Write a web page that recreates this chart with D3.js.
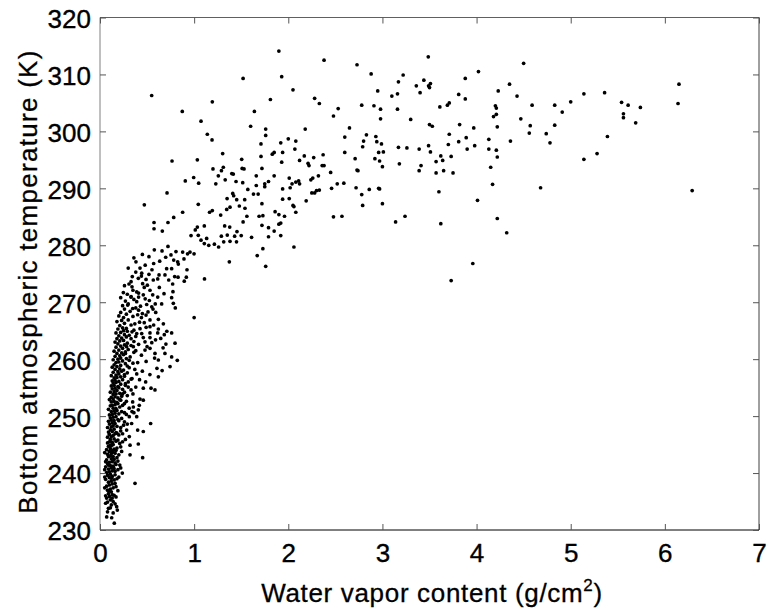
<!DOCTYPE html>
<html>
<head>
<meta charset="utf-8">
<script src="https://cdn.jsdelivr.net/npm/d3@7"></script>
<style>
  html, body { margin: 0; padding: 0; background: #fff; }
  svg { display: block; font-family: "Liberation Sans", Arial, Helvetica, sans-serif; }
</style>
</head>
<body>
<svg width="768" height="610"></svg>
<script>
/* axis setup */
let xTicks = [0, 1, 2, 3, 4, 5, 6, 7];
let yTicks = [230, 240, 250, 260, 270, 280, 290, 300, 310, 320];

/* data: [water vapor g/cm2, bottom temperature K] */
// dense low-vapour core
let denseCore = [
  [0.09,233.8],[0.12,234.4],[0.08,234.9],[0.11,235.3],[0.14,235.0],[0.07,235.6],[0.10,235.9],[0.13,236.2],[0.16,234.6],[0.09,236.4],[0.06,236.0],[0.12,236.7],[0.15,236.1],
  [0.08,237.0],[0.11,237.2],[0.14,237.4],[0.07,237.7],[0.10,237.9],[0.13,238.1],[0.17,237.6],[0.09,238.4],[0.12,238.6],[0.15,238.8],[0.06,238.9],[0.10,239.2],[0.13,239.4],[0.18,239.0],[0.08,239.6],[0.11,239.8],[0.16,239.7],[0.20,239.3],
  [0.07,240.1],[0.10,240.2],[0.13,240.4],[0.16,240.3],[0.09,240.7],[0.12,240.9],[0.15,240.8],[0.19,240.6],[0.06,241.1],[0.11,241.3],[0.14,241.2],[0.17,241.5],[0.08,241.7],[0.10,241.9],[0.13,242.0],[0.16,241.8],[0.21,241.4],[0.07,242.3],[0.12,242.5],[0.15,242.4],[0.18,242.7],[0.09,242.9],[0.11,243.0],[0.14,242.9],
  [0.08,243.3],[0.12,243.4],[0.16,243.5],[0.20,243.2],[0.10,243.8],[0.13,243.9],[0.07,244.1],[0.11,244.3],[0.15,244.2],[0.18,244.4],[0.09,244.7],[0.12,244.8],[0.14,245.0],[0.22,244.6],[0.08,245.3],[0.10,245.5],[0.13,245.4],[0.17,245.6],[0.11,245.9],[0.15,246.0],[0.19,245.8],[0.24,245.5],
  [0.08,246.3],[0.12,246.4],[0.14,246.6],[0.10,246.8],[0.16,246.9],[0.20,246.7],[0.09,247.2],[0.13,247.3],[0.17,247.1],[0.11,247.6],[0.15,247.7],[0.22,247.4],[0.08,248.0],[0.12,248.1],[0.14,248.3],[0.18,248.2],[0.10,248.6],[0.13,248.8],[0.16,248.7],[0.25,248.4],[0.09,249.1],[0.12,249.3],[0.15,249.2],[0.19,249.4],[0.11,249.7],[0.14,249.8],[0.17,249.9],[0.23,249.6],
  [0.10,250.2],[0.13,250.3],[0.16,250.5],[0.20,250.4],[0.12,250.8],[0.15,250.9],[0.18,251.0],[0.26,250.6],[0.09,251.2],[0.14,251.4],[0.17,251.3],[0.21,251.6],[0.11,251.8],[0.13,251.9],[0.16,252.0],[0.19,252.2],[0.24,251.9],[0.12,252.5],[0.15,252.6],[0.18,252.4],[0.22,252.8],[0.10,252.9],[0.14,253.0],[0.28,252.6],
  [0.12,253.3],[0.16,253.4],[0.19,253.2],[0.23,253.5],[0.14,253.8],[0.17,253.9],[0.21,254.0],[0.11,254.2],[0.15,254.3],[0.18,254.5],[0.26,254.2],[0.13,254.8],[0.16,254.9],[0.20,255.0],[0.24,254.7],[0.12,255.3],[0.15,255.4],[0.19,255.2],[0.22,255.6],[0.30,255.1],[0.14,255.8],[0.17,255.9],[0.27,255.7],
  [0.13,256.2],[0.16,256.3],[0.20,256.1],[0.24,256.4],[0.15,256.7],[0.18,256.8],[0.22,256.9],[0.33,256.5],[0.12,257.1],[0.17,257.2],[0.20,257.4],[0.26,257.3],[0.14,257.7],[0.19,257.8],[0.23,257.9],[0.29,257.6],[0.16,258.2],[0.21,258.3],[0.25,258.1],[0.13,258.6],[0.18,258.7],[0.22,258.9],[0.31,258.5],[0.15,259.0],[0.27,259.2],
  [0.17,259.4],[0.20,259.5],[0.24,259.7],[0.35,259.3],[0.14,259.9],[0.19,260.0],[0.22,260.2],[0.28,260.1],[0.16,260.5],[0.21,260.6],[0.25,260.8],[0.32,260.4],[0.18,261.0],[0.23,261.1],[0.27,261.3],[0.15,261.4],[0.20,261.6],[0.30,261.7],[0.24,261.9],[0.38,261.5],
  [0.17,262.1],[0.22,262.3],[0.26,262.5],[0.19,262.7],[0.29,262.8],[0.33,262.4],[0.16,263.0],[0.21,263.2],[0.25,263.3],[0.36,263.1],[0.18,263.6],[0.23,263.7],[0.28,263.9],[0.20,264.1],[0.26,264.3],[0.31,264.2],[0.17,264.6],[0.22,264.7],[0.34,264.8],[0.25,265.0],
  [0.19,265.3],[0.24,265.5],[0.28,265.4],[0.21,265.9],[0.33,266.0],[0.26,266.3],[0.37,266.2],[0.18,266.6],[0.23,266.8],[0.30,266.9],[0.42,266.5],[0.25,267.3],[0.20,267.6],[0.35,267.5],[0.28,267.9],[0.22,268.2],[0.32,268.4],[0.45,268.0],[0.26,268.8],[0.38,269.0],[0.24,269.4],[0.30,269.7],[0.43,269.3],[0.27,270.2],[0.36,270.5],[0.33,271.0]
];

// looser points round the edges of the core
let coreFringe = [
  [0.22,270.8],[0.29,271.4],[0.35,272.1],[0.41,271.6],[0.47,272.6],[0.26,272.9],[0.33,273.6],[0.44,274.6],[0.52,274.9],[0.38,275.3],[0.30,276.0],[0.48,276.5],[0.57,276.8],[0.36,277.8],[0.45,278.4],[0.52,278.0],
  [0.39,270.1],[0.48,270.6],[0.55,269.2],[0.51,268.3],[0.40,267.8],[0.47,266.4],[0.57,266.0],[0.36,265.1],[0.49,265.6],[0.62,265.3],
  [0.29,264.9],[0.38,264.0],[0.46,263.8],[0.55,262.9],[0.33,263.6],[0.41,262.6],[0.50,262.2],[0.27,261.0],[0.36,261.2],[0.44,260.7],[0.58,260.2],[0.31,259.8],[0.40,259.4],[0.49,259.6],[0.29,258.8],[0.37,258.2],[0.45,257.9],[0.53,257.3],[0.26,257.0],[0.34,256.6],[0.42,256.4],[0.62,256.9],[0.30,256.0],[0.39,257.4],[0.67,262.0],[0.71,264.9],[0.59,263.4],[0.66,258.0],
  [0.27,255.4],[0.33,254.6],[0.38,255.1],[0.24,253.9],[0.29,253.6],[0.35,253.9],[0.21,252.9],[0.26,252.2],[0.31,251.4],[0.23,250.8],[0.28,250.3],[0.36,250.6],[0.20,249.2],[0.26,249.0],[0.22,248.0],[0.29,248.6],[0.18,247.0],[0.24,246.9],[0.21,245.2],[0.27,245.9],[0.17,244.0],[0.23,243.8],
  [0.05,243.6],[0.06,242.0],[0.05,240.6],[0.19,242.1],[0.22,240.9],[0.05,239.3],[0.16,238.2],[0.19,236.9],[0.05,237.4],[0.13,235.6],[0.06,234.7],[0.11,233.9],[0.08,233.2],[0.14,233.0],[0.17,235.8],[0.10,236.9],[0.12,239.1],[0.09,241.4],[0.14,243.7],[0.11,244.9]
];

// the rising arm between the core and the upper cloud
let risingArm = [
  [0.471,287.1],[1.044,287.2],[0.878,285.8],[0.783,284.9],[0.722,284.0],[0.574,284.0],[0.574,282.9],[0.662,282.5],
  [1.034,283.2],[1.108,283.4],[1.012,282.7],[1.164,285.8],[1.193,286.1],[1.282,285.3],[1.346,286.3],[1.381,286.7],
  [1.452,288.0],[1.537,288.0],
  [1.455,282.4],[1.43,281.6],[1.50,281.7],[1.45,280.6],[1.52,284.1],[1.56,285.1],[1.54,286.5],[1.48,286.9],
  [1.324,283.4],[1.378,283.2],[1.352,281.8],[1.289,281.6],[1.314,280.6],[1.381,280.7],[1.215,280.2],
  [1.26,279.7],[1.374,277.1],[1.11,274.1],[1.00,267.3],
  [1.073,280.9],[1.108,280.3],[1.155,280.0],[1.133,281.2],[1.044,281.75],[0.967,281.7],
  [0.956,278.8],[0.999,278.5],[0.93,278.5],[0.878,278.8],[0.892,277.6],[0.807,278.9],[0.825,277.1],
  [0.917,274.4],[0.924,275.7],[0.895,273.7],[0.832,276.7],
  [0.722,279.8],[0.659,279.0],[0.577,279.2],[0.754,278.3],[0.698,277.9],[0.783,277.4],[0.634,277.2],
  [0.382,277.1],[0.425,276.0],[0.443,275.1],[0.552,275.7],[0.627,274.8],[0.708,275.9],[0.761,275.9],[0.69,274.8],[0.793,274.5],[0.829,274.4],[0.73,273.9],[0.566,273.9],[0.489,274.0],[0.407,274.2],[0.343,274.5],
  [0.248,271.7],[0.308,273.2],[0.34,272.7],[0.39,271.8],[0.453,273.25],[0.503,273.0],[0.531,272.1],[0.46,271.3],[0.41,270.9],[0.63,272.6],[0.613,274.1],[0.772,273.2],[0.775,271.85],[0.68,271.5],[0.613,270.9],[0.56,271.3],[0.524,270.3],[0.587,269.7],[0.655,269.7],[0.779,269.8],[0.80,269.0],[0.761,270.8],
  [0.329,270.9],[0.294,269.5],[0.347,268.9],[0.41,268.6],[0.496,269.6],[0.563,268.8],[0.592,268.2],[0.489,267.75],[0.44,267.3],[0.531,266.9],[0.62,267.0],[0.531,265.7],[0.673,266.2],[0.425,265.35],[0.531,264.6],[0.613,264.6],[0.683,264.3],[0.761,264.6],[0.797,262.8],[0.70,262.65],[0.645,263.65],[0.531,263.8],[0.478,263.05],[0.443,264.5],[0.39,264.5],
  [0.821,259.8],[0.744,258.7],[0.605,258.4],[0.62,259.85],[0.69,261.0],[0.761,260.4],[0.584,261.0],[0.531,261.9],[0.478,261.6],[0.354,262.2],[0.283,262.2],
  [0.485,256.0],[0.46,254.9],[0.542,254.9],[0.584,254.6],[0.425,253.0],[0.46,252.8],[0.417,251.9],[0.347,252.5],[0.354,251.6],[0.407,251.1],[0.34,250.8],[0.311,249.9],[0.39,249.9],[0.538,248.7],[0.40,247.55],[0.46,247.3],[0.336,248.7],[0.283,247.55],[0.311,246.4],[0.407,245.1],[0.319,244.9],[0.453,242.7],[0.319,243.2],[0.372,238.2],[0.237,240.0],
  [0.071,232.3],[0.124,232.15],[0.152,231.2],[0.177,234.1],[0.184,233.5]
];

// upper cloud, x < 3
let upperLeft = [
  [0.549,306.3],[0.874,303.5],[1.193,305.2],[1.073,301.8],[1.14,299.5],[1.19,298.5],[0.765,294.8],[0.712,289.2],[0.906,291.3],[1.034,295.0],[1.048,290.9],[0.995,291.9],[1.303,296.1],[1.20,293.4],[1.29,293.1],[1.31,293.7],[1.257,292.2],[1.33,291.5],[1.23,290.8],[1.416,292.5],[1.445,291.2],[1.516,291.0],[1.505,295.1],[1.53,293.4],[1.52,309.3],[1.90,314.1],[1.93,309.6],[2.05,307.3],[1.81,305.6],[1.64,303.5],[1.60,300.9],[1.76,300.4],[1.76,299.3],[1.71,297.8],[1.71,295.6],[1.83,296.0],[1.85,296.3],[1.92,298.0],[1.94,296.3],[1.93,294.6],[2.00,298.7],[2.08,298.3],[2.07,296.9],[2.18,300.4],[2.28,305.8],[2.33,304.9],[2.38,312.5],[2.17,295.7],[2.27,295.4],[2.12,294.9],[2.21,294.4],[2.22,294.0],[2.37,295.9],[2.36,294.0],[2.38,294.0],[1.72,293.5],[1.66,292.2],[1.66,290.5],[1.68,289.0],[1.85,292.2],[1.79,291.2],[1.75,290.8],[1.75,290.3],
  [1.94,289.9],[2.02,290.1],[2.04,290.8],[2.01,291.8],[2.08,291.1],[2.12,290.8],[2.11,291.3],[2.24,291.5],[2.26,291.8],[2.32,292.2],[2.33,289.7],[2.28,289.2],
  [2.45,292.8],[2.46,290.0],[2.52,290.8],[2.59,290.9],[2.48,302.7],[2.53,304.0],[2.65,300.6],[2.73,311.7],[2.88,310.1],[2.95,307.1],[2.78,304.6],[2.91,304.5],[2.98,303.9],[2.98,302.2],[2.60,299.0],[2.60,296.3],[2.71,295.2],[2.80,298.3],[2.83,299.4],[2.79,297.3],
  [2.93,299.1],[2.94,298.2],[2.99,297.8],[3.01,296.4],[2.96,296.3],[2.92,295.2],[2.97,294.8],[3.00,293.8],
  [2.73,293.2],[2.74,293.1],[2.72,290.1],[2.78,288.9],[2.86,289.8],[2.96,290.0],[2.97,289.9],
  [1.35,288.2],[1.41,289.1],[1.42,288.7],[1.57,289.8],[1.63,289.0],[1.94,288.1],[2.01,288.2],[2.25,289.2],[2.30,289.6],[1.40,292.6],[1.51,293.5],
  [1.72,287.3],[1.69,285.1],[1.73,285.2],[1.86,285.9],[1.90,285.4],[1.96,285.1],[1.72,283.5],[1.79,283.1],[1.85,282.5],[1.90,283.7],[1.92,283.9],[1.79,281.5],[1.92,281.7],[1.61,281.4],[1.73,279.4],[1.67,278.2],[1.76,276.3],[2.06,279.7],[2.05,287.0],[2.06,286.8],[2.08,285.8],[2.19,287.8],[2.48,285.0],[2.57,285.1],[2.79,287.0],[3.00,287.3]
];

// upper cloud, x > 3
let upperRight = [
  [3.487,313.1],[4.50,311.95],[4.02,310.5],[3.22,309.9],[3.17,308.7],[3.44,309.0],[3.36,308.0],[3.49,308.0],[3.51,308.4],[3.50,307.7],[3.88,309.3],[3.40,306.8],[3.10,306.2],[3.16,306.6],[4.35,308.3],[4.23,307.1],[4.43,306.2],[3.81,306.5],[3.88,305.7],[3.16,303.9],[3.30,302.1],[3.61,304.3],[3.69,304.6],[3.71,305.0],[4.20,304.5],[4.21,304.1],[4.21,303.0],[4.18,302.6],[4.59,304.6],[4.83,304.6],[5.00,305.2],[4.91,303.4],[4.47,302.2],[4.57,301.0],[4.83,301.1],[4.56,299.7],[4.74,299.6],[4.78,298.0],
  [3.50,301.2],[3.53,300.9],[3.82,301.2],[3.97,300.6],[4.22,300.8],[3.71,299.5],[3.89,298.9],[3.81,298.2],[3.70,297.7],[4.13,298.6],[4.36,298.3],[3.98,297.5],[3.90,296.9],[4.13,296.9],[4.21,296.7],[4.22,295.5],[3.17,297.2],[3.26,297.1],[3.39,296.9],[3.49,297.5],[3.51,296.4],[3.62,295.7],[3.64,294.9],[3.57,294.7],[3.73,295.6],[3.41,294.0],[3.39,293.1],[3.18,294.3],[3.57,292.7],[3.65,293.1],[3.75,292.7],[4.15,293.7],
  [3.60,289.4],[4.17,290.7],[4.68,290.1],[4.01,287.9],[3.24,285.1],[3.14,284.1],[3.62,283.8],[4.22,284.7],[4.32,282.2],[3.96,276.8],[3.73,273.8],
  [5.14,306.6],[5.36,306.8],[5.54,305.1],[5.61,304.6],[5.74,304.2],[5.56,303.1],[5.56,302.4],[5.69,301.5],[5.39,299.1],[6.15,308.3],[6.14,304.9],[6.29,289.6],[5.14,295.1],[5.28,296.1]
];

let groups = [denseCore, coreFringe, risingArm, upperLeft, upperRight];

/* svg and scales */
let svg = d3.select('svg');
let plotLeft = 100, plotRight = 759, plotTop = 17.5, plotBottom = 530;
let fontSize = 26;

let x = d3.scaleLinear().domain([0, 7]).range([plotLeft, plotRight]);
let y = d3.scaleLinear().domain([230, 320]).range([plotBottom, plotTop]);

// points
svg.append('g').attr('class', 'points')
  .selectAll('circle')
  .data(groups.flat())
  .enter().append('circle')
  .attr('cx', d => x(d[0]))
  .attr('cy', d => y(d[1]))
  .attr('r', 1.85)
  .attr('fill', '#000');

// frame
svg.append('line').attr('x1', plotLeft).attr('x2', plotLeft).attr('y1', plotTop).attr('y2', plotBottom).attr('stroke', '#808080');
svg.append('line').attr('x1', plotLeft).attr('x2', plotRight).attr('y1', plotTop).attr('y2', plotTop).attr('stroke', '#606060');
svg.append('line').attr('x1', plotRight).attr('x2', plotRight).attr('y1', plotTop).attr('y2', plotBottom).attr('stroke', '#404040');
svg.append('line').attr('x1', plotLeft).attr('x2', plotRight).attr('y1', plotBottom).attr('y2', plotBottom).attr('stroke', '#000');

// axes, ticks pointing inward
let xAxis = svg.append('g').attr('transform', `translate(0,${plotBottom})`)
  .call(d3.axisBottom(x).tickValues(xTicks).tickFormat(d3.format('d')).tickSizeInner(-6).tickSizeOuter(0).tickPadding(14));
let xTop = svg.append('g').attr('transform', `translate(0,${plotTop})`)
  .call(d3.axisTop(x).tickValues(xTicks).tickSizeInner(-6).tickSizeOuter(0).tickFormat(''));
let yAxis = svg.append('g').attr('transform', `translate(${plotLeft},0)`)
  .call(d3.axisLeft(y).tickValues(yTicks).tickSizeInner(-6).tickSizeOuter(0).tickPadding(9));
let yRight = svg.append('g').attr('transform', `translate(${plotRight},0)`)
  .call(d3.axisRight(y).tickValues(yTicks).tickSizeInner(-6).tickSizeOuter(0).tickFormat(''));

[xAxis, xTop, yAxis, yRight].forEach(g => {
  g.select('.domain').remove();
  g.selectAll('line').attr('stroke', '#555');
  g.selectAll('text')
    .attr('font-size', fontSize).attr('font-family', null)
    .attr('fill', '#000').attr('stroke', '#000').attr('stroke-width', 0.35);
});
yAxis.selectAll('text').attr('dy', '0.38em');

// stretch a label to the width measured on the reference
function fitWidth(t, target) {
  let w = t.node().getComputedTextLength();
  let n = t.text().length;
  t.attr('letter-spacing', ((target - w) / (n - 1)).toFixed(2));
}

let xLabel = svg.append('text')
  .attr('x', 432).attr('y', 602)
  .attr('text-anchor', 'middle')
  .attr('font-size', fontSize)
  .attr('stroke', '#000').attr('stroke-width', 0.3);
xLabel.append('tspan').text('Water vapor content (g/cm');
xLabel.append('tspan').attr('font-size', 17).attr('dy', -11).text('2');
xLabel.append('tspan').attr('dy', 11).text(')');
fitWidth(xLabel, 341);

let yLabel = svg.append('text')
  .attr('transform', 'translate(37,281.5) rotate(-90)')
  .attr('text-anchor', 'middle')
  .attr('font-size', fontSize)
  .attr('stroke', '#000').attr('stroke-width', 0.3)
  .text('Bottom atmospheric temperature (K)');
fitWidth(yLabel, 463);
</script>
</body>
</html>
